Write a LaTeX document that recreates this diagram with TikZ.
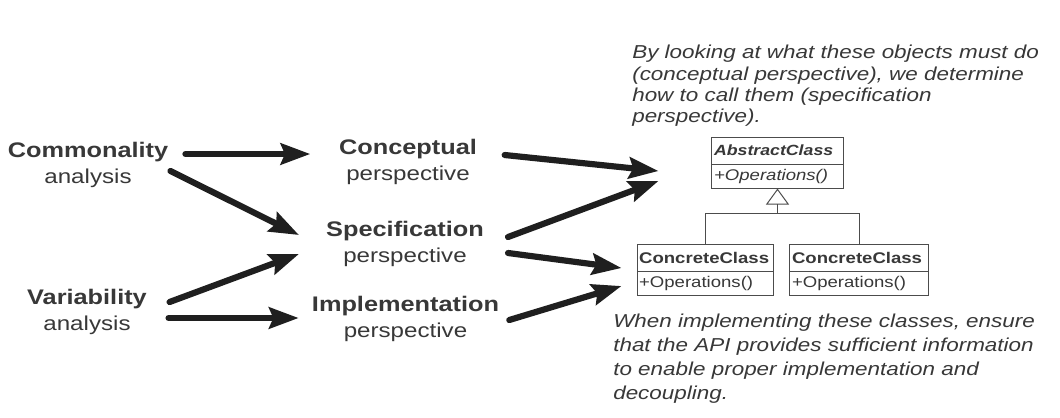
\documentclass[tikz,border=0pt]{standalone}
\usepackage{fontspec}
\setmainfont{Liberation Sans}[FakeStretch=1.2]
\usetikzlibrary{arrows.meta}
\definecolor{ink}{gray}{0.22}
\begin{document}
\begin{tikzpicture}[
  x=0.025cm, y=-0.025cm,
  stage/.style={align=center, inner sep=0pt, text=ink, font=\fontsize{15}{18.5}\selectfont},
  fatarrow/.style={draw=black!88, line width=4.4pt, line cap=round, -{Stealth[length=21pt, width=15pt, inset=3pt]}},
  clsname/.style={draw=black!70, line width=0.7pt, align=left, inner xsep=1.5pt, inner ysep=0pt, minimum height=19.2pt, text=ink, font=\fontsize{11}{13}\selectfont\bfseries},
  clsop/.style={clsname, anchor=north, minimum height=16.4pt, font=\fontsize{11}{13}\selectfont},
  uml/.style={draw=black!70, line width=0.7pt},
  note/.style={align=left, inner sep=0pt, text=ink, anchor=north west, font=\fontsize{13.3}{15.2}\selectfont\itshape}
]
\useasboundingbox[fill=white] (0,0) rectangle (1060,417);

\node[stage] (comm) at (88,165) {\textbf{Commonality}\\{\fontsize{14.3}{18.5}\selectfont analysis}};
\node[stage] (var) at (87,312) {\textbf{Variability}\\{\fontsize{14.3}{18.5}\selectfont analysis}};
\node[stage] (conc) at (408,162) {\textbf{Conceptual}\\{\fontsize{14.3}{18.5}\selectfont perspective}};
\node[stage] (spec) at (405,244) {\textbf{Specification}\\{\fontsize{14.3}{18.5}\selectfont perspective}};
\node[stage] (impl) at (405.5,319) {\textbf{Implementation}\\{\fontsize{14.3}{18.5}\selectfont perspective}};

\node[clsname, text width=90.2pt, font=\fontsize{10.5}{13}\selectfont\bfseries\itshape] (abs) at (777.5,150.5) {AbstractClass};
\node[clsop, text width=90.2pt, font=\fontsize{11}{13}\selectfont\itshape] (absop) at (abs.south) {+Operations()};
\node[clsname, text width=93.7pt] (cc1) at (705,257.5) {ConcreteClass};
\node[clsop, text width=93.7pt] (cc1op) at (cc1.south) {+Operations()};
\node[clsname, text width=95.2pt] (cc2) at (859,257.5) {ConcreteClass};
\node[clsop, text width=95.2pt] (cc2op) at (cc2.south) {+Operations()};

\coordinate (fork) at ([shift={(0,25)}]absop.south);
\draw[uml] (cc1.north) |- (fork) -| (cc2.north);
\draw[uml, -{Triangle[open, length=11.4pt, width=16.4pt]}] (fork) -- (absop.south);

\draw[fatarrow] ([shift={(17,-11)}]comm.east) -- ([shift={(-28.5,-8)}]conc.west);
\draw[fatarrow] ([shift={(2,6)}]comm.east) -- ([shift={(-27,-9)}]spec.west);
\draw[fatarrow] ([shift={(22.5,-10)}]var.east) -- ([shift={(-27,10)}]spec.west);
\draw[fatarrow] ([shift={(21.5,6)}]var.east) -- ([shift={(-13,-1)}]impl.west);

\draw[fatarrow] ([shift={(27.5,-7)}]conc.east) -- ([shift={(-53,-5.5)}]absop.west);
\draw[fatarrow] ([shift={(24,-7)}]spec.east) -- ([shift={(-53,4.5)}]absop.west);
\draw[fatarrow] ([shift={(24,9)}]spec.east) -- ([shift={(-15,10.5)}]cc1.west);
\draw[fatarrow] ([shift={(10,1)}]impl.east) -- ([shift={(-15,2.5)}]cc1op.west);

\node[note] (topnote) at (632,45) {By looking at what these objects must do\\(conceptual perspective), we determine\\how to call them (specification\\perspective).};
\node[note, font=\fontsize{13.3}{17.1}\selectfont\itshape] (botnote) at (613,314) {When implementing these classes, ensure\\that the API provides sufficient information\\to enable proper implementation and\\decoupling.};
\end{tikzpicture}
\end{document}
